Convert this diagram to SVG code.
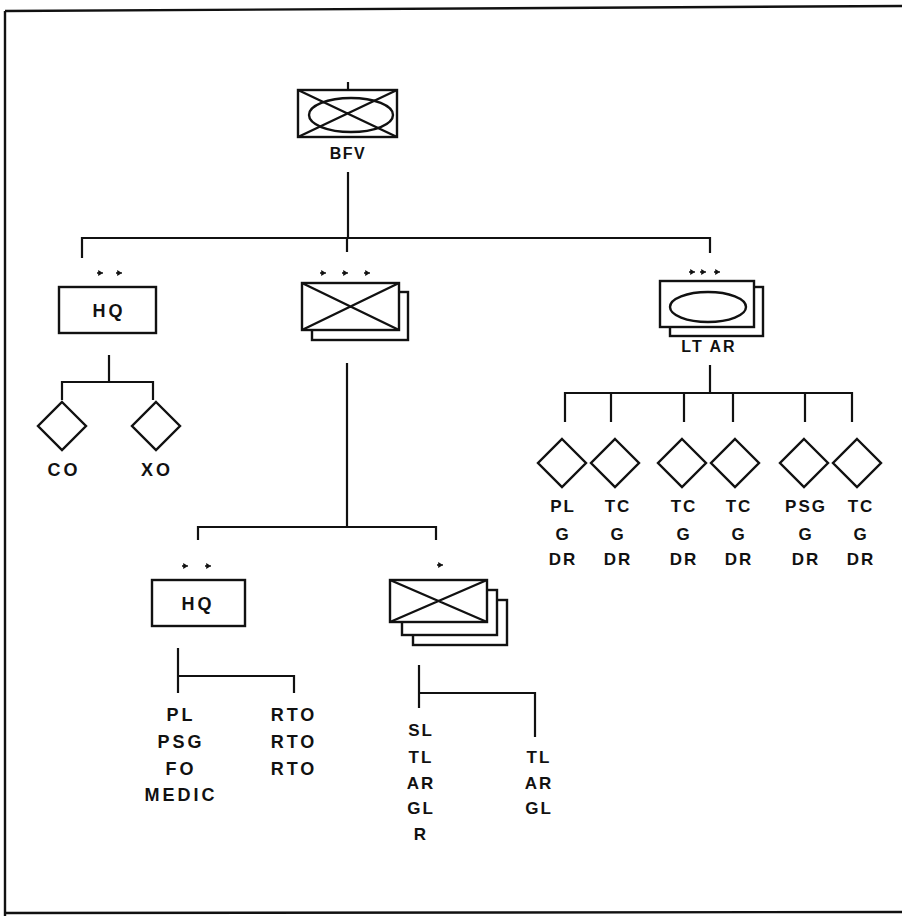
<svg xmlns="http://www.w3.org/2000/svg" width="902" height="916" viewBox="0 0 902 916">
<style>
.s{fill:none;stroke:#111;stroke-width:2.4}
.w{fill:#fff;stroke:#111;stroke-width:2.4}
.c{fill:none;stroke:#111;stroke-width:2.2}
text{font-family:"Liberation Sans",Arial,sans-serif;fill:#111;text-anchor:middle;font-weight:bold}
.t{font-size:17px;letter-spacing:2px}
.b{font-size:18px;letter-spacing:3px}
.h{font-size:18px;letter-spacing:3px}
</style>
<defs>
<path id="dia" d="M0,-24 L24,0 L0,24 L-24,0 Z" class="w"/>
<path id="dot" d="M-3,0 h6 M-1,-1.5 L1.5,0 L-1,1.5 Z" stroke="#111" stroke-width="1.6" fill="#111"/>
</defs>
<rect width="902" height="916" fill="#fff"/>
<g id="frame" class="s">
<path d="M5,11 L902,6"/>
<path d="M5,11 V916"/>
<path d="M5,913 L902,912"/>
</g>
<g id="connectors" class="c">
<path d="M348,82 V90"/>
<path d="M348,172 V238"/>
<path d="M82,258 V238 H710 V253"/>
<path d="M347,238 V252"/>
<path d="M109,355 V382"/>
<path d="M62,400 V382 H153 V400"/>
<path d="M347,363 V527"/>
<path d="M198,540 V527 H436 V540"/>
<path d="M710,365 V393"/>
<path d="M565,422 V393 H852 V422"/>
<path d="M611,393 V422 M684,393 V422 M733,393 V422 M805,393 V422"/>
<path d="M178,648 V693"/>
<path d="M178,676 H294 V693"/>
<path d="M419,665 V708"/>
<path d="M419,693 H535 V737"/>
</g>
<g id="bfv">
<rect x="298" y="90" width="99" height="47" class="w"/>
<ellipse cx="351" cy="115" rx="42" ry="17" class="s"/>
<path d="M298,90 L397,137 M397,90 L298,137" class="s"/>
<text class="t" x="348" y="159" style="font-size:16px;letter-spacing:1.5px">BFV</text>
</g>
<g id="hq-company">
<use href="#dot" x="100" y="273"/><use href="#dot" x="119" y="273"/>
<rect x="59" y="287" width="97" height="46" class="w"/>
<text class="h" x="109" y="317">HQ</text>
</g>
<g id="co">
<use href="#dia" x="62" y="426"/>
<text class="h" x="64" y="476">CO</text>
</g>
<g id="xo">
<use href="#dia" x="156" y="426"/>
<text class="h" x="157" y="476">XO</text>
</g>
<g id="platoons">
<use href="#dot" x="323" y="273"/><use href="#dot" x="345" y="273"/><use href="#dot" x="367" y="273"/>
<rect x="312" y="292" width="96" height="48" class="w"/>
<rect x="302" y="283" width="97" height="47" class="w"/>
<path d="M302,283 L399,330 M399,283 L302,330" class="s"/>
</g>
<g id="ltar">
<use href="#dot" x="692" y="272"/><use href="#dot" x="703" y="272"/><use href="#dot" x="717" y="272"/>
<rect x="670" y="287" width="93" height="49" class="w"/>
<rect x="660" y="281" width="94" height="46" class="w"/>
<ellipse cx="708" cy="307" rx="38" ry="15" class="s"/>
<text class="t" x="709" y="352" style="font-size:16px">LT AR</text>
</g>
<g id="crew1"><use href="#dia" x="562" y="463"/><text class="t" x="563" y="512">PL</text><text class="t" x="563" y="540">G</text><text class="t" x="563" y="565">DR</text></g>
<g id="crew2"><use href="#dia" x="615" y="463"/><text class="t" x="618" y="512">TC</text><text class="t" x="618" y="540">G</text><text class="t" x="618" y="565">DR</text></g>
<g id="crew3"><use href="#dia" x="682" y="463"/><text class="t" x="684" y="512">TC</text><text class="t" x="684" y="540">G</text><text class="t" x="684" y="565">DR</text></g>
<g id="crew4"><use href="#dia" x="735" y="463"/><text class="t" x="739" y="512">TC</text><text class="t" x="739" y="540">G</text><text class="t" x="739" y="565">DR</text></g>
<g id="crew5"><use href="#dia" x="804" y="463"/><text class="t" x="806" y="512">PSG</text><text class="t" x="806" y="540">G</text><text class="t" x="806" y="565">DR</text></g>
<g id="crew6"><use href="#dia" x="857" y="463"/><text class="t" x="861" y="512">TC</text><text class="t" x="861" y="540">G</text><text class="t" x="861" y="565">DR</text></g>
<g id="hq-platoon">
<use href="#dot" x="185" y="566"/><use href="#dot" x="208" y="566"/>
<rect x="152" y="580" width="93" height="46" class="w"/>
<text class="h" x="198" y="610">HQ</text>
</g>
<g id="hq-members">
<text class="b" x="181" y="721">PL</text>
<text class="b" x="181" y="748">PSG</text>
<text class="b" x="181" y="775">FO</text>
<text class="b" x="181" y="801">MEDIC</text>
<text class="b" x="294" y="721">RTO</text>
<text class="b" x="294" y="748">RTO</text>
<text class="b" x="294" y="775">RTO</text>
</g>
<g id="squads">
<use href="#dot" x="440" y="565"/>
<rect x="413" y="600" width="94" height="45" class="w"/>
<rect x="402" y="590" width="95" height="45" class="w"/>
<rect x="390" y="580" width="97" height="42" class="w"/>
<path d="M390,580 L487,622 M487,580 L390,622" class="s"/>
</g>
<g id="squad-members">
<text class="t" x="421" y="736">SL</text>
<text class="t" x="421" y="763">TL</text>
<text class="t" x="421" y="789">AR</text>
<text class="t" x="421" y="814">GL</text>
<text class="t" x="421" y="840">R</text>
<text class="t" x="539" y="763">TL</text>
<text class="t" x="539" y="789">AR</text>
<text class="t" x="539" y="814">GL</text>
</g>
</svg>
